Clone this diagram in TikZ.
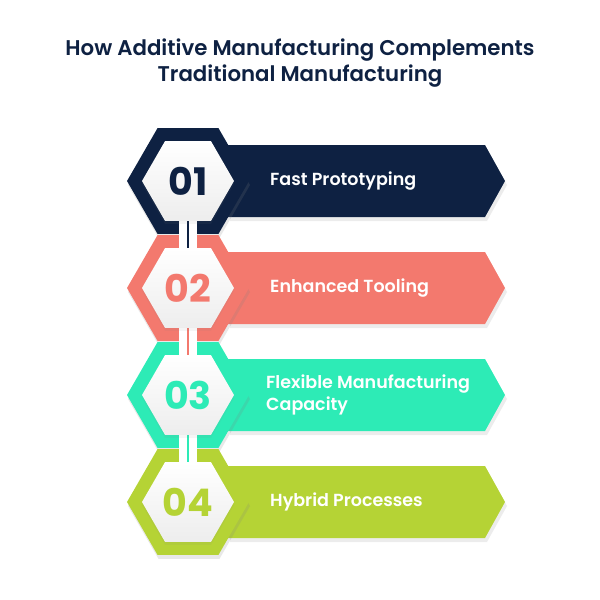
\documentclass[tikz,border=0pt]{standalone}
\usepackage{fontspec}
\setmainfont{Poppins}[BoldFont={Poppins SemiBold}]
\newfontfamily\numfont{Poppins Bold}
\usetikzlibrary{shapes.geometric,positioning,shadows,calc}
\definecolor{navy}{HTML}{0E2142}
\definecolor{salmon}{HTML}{F3796E}
\definecolor{mint}{HTML}{2DEBB6}
\definecolor{lime}{HTML}{B5D335}

\begin{document}
\begin{tikzpicture}[x=1pt,y=-1pt,node distance=107pt,on grid,
    outer/.style={regular polygon,regular polygon sides=6,
        minimum size=122pt,inner sep=0pt,fill=#1,
        drop shadow={opacity=0.18,shadow xshift=1pt,shadow yshift=-4pt}},
    inner/.style={regular polygon,regular polygon sides=6,
        minimum size=92pt,inner sep=0pt,top color=white,bottom color=gray!14,
        text=#1,font=\numfont\fontsize{38}{38}\selectfont,
        drop shadow={opacity=0.08,shadow xshift=0pt,shadow yshift=-3pt}},
    banner/.style={fill=#1,drop shadow={opacity=0.15,shadow xshift=2pt,shadow yshift=-4pt}},
    bar/.style={draw=white,line width=18pt},
    link/.style={draw=#1,line width=1.6pt},
    txt/.style={text=white,font=\bfseries\fontsize{17.5}{22}\selectfont,align=left,inner sep=0pt}]
    \useasboundingbox (0,0) rectangle (600,600);
    % title
    \node[text=navy,font=\bfseries\fontsize{21.3}{26}\selectfont,align=center] (title) at (300,63)
        {How Additive Manufacturing Complements\\Traditional Manufacturing};
    % hexagon centres
    \coordinate (c1) at (188,181);
    \coordinate[below=of c1] (c2);
    \coordinate[below=of c2] (c3);
    \coordinate[below=of c3] (c4);
    % banners and outer hexagons
    \foreach \i/\col in {1/navy,2/salmon,3/mint,4/lime}{
        \fill[banner=\col] ($(c\i)+(40,-36)$) -- ++(257,0) -- ++(20,36) -- ++(-20,36) -- ++(-257,0) -- cycle;
        \node[outer=\col] (o\i) at (c\i) {};
    }
    % connectors
    \draw[bar] (c1) -- (c4);
    \foreach \i/\col in {1/navy,2/salmon,3/mint}{
        \pgfmathtruncatemacro\j{\i+1}
        \draw[link=\col] ($(c\i)+(0,37)$) -- ($(c\j)+(0,-37)$);
    }
    % numbers
    \node[inner=navy] (n1) at (c1) {01};
    \node[inner=salmon] (n2) at (c2) {02};
    \node[inner=mint] (n3) at (c3) {03};
    \node[inner=lime] (n4) at (c4) {04};
    % labels
    \node[txt,right=82pt of c1,anchor=west] (t1) {Fast Prototyping};
    \node[txt,right=82pt of c2,anchor=west] (t2) {Enhanced Tooling};
    \node[txt,right=78pt of c3,anchor=west] (t3) {Flexible Manufacturing\\Capacity};
    \node[txt,right=82pt of c4,anchor=west] (t4) {Hybrid Processes};
\end{tikzpicture}
\end{document}
